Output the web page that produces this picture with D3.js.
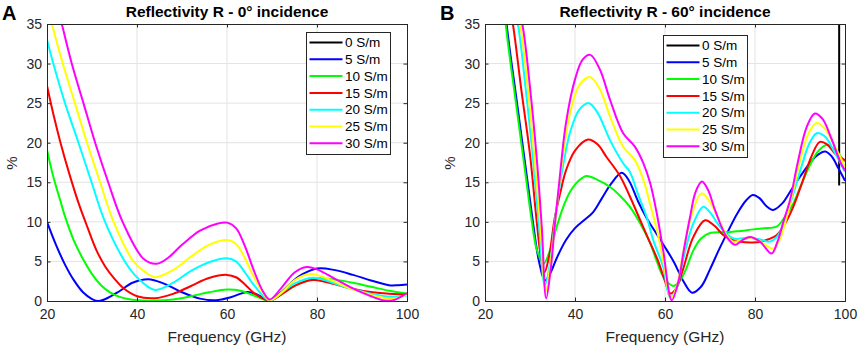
<!DOCTYPE html>
<html>
  <head>
    <meta charset="UTF-8">
    <style>
      body {
        margin: 0;
        background: #ffffff;
        font-family: "Liberation Sans", Arial, Helvetica, sans-serif;
      }

      .tick text {
        font-size: 14px;
        fill: #262626;
      }

      .legend text {
        font-size: 13.5px;
        fill: #000000;
      }
    </style>
    <script src="https://cdn.jsdelivr.net/npm/d3@7"></script>
  </head>

  <body>
    <svg id="chart" width="858" height="353"></svg>

    <script type="text/javascript">
      const seriesNames = ['0 S/m', '5 S/m', '10 S/m', '15 S/m', '20 S/m', '25 S/m', '30 S/m']
      const seriesColors = ['#000000', '#0000ff', '#00ff00', '#ff0000', '#00ffff', '#ffff00', '#ff00ff']
      const xTicks = [20, 40, 60, 80, 100]
      const yTicks = [0, 5, 10, 15, 20, 25, 30, 35]

      // panel A : 0 deg incidence, [frequency GHz, R %]
      const a0 = []
      const a5 = [[20,10],[22,7.1],[24,4.6],[26,2.6],[28,1.1],[30,0.25],[31.5,0],[33,0.25],[36,1.2],[39,2.3],[42.5,2.75],[46,2.2],[50,1.1],[54,0.3],[57.5,0.1],[61,0.5],[64.5,1.15],[67,0.75],[69.3,0.05],[72,1.1],[76,3.1],[80,4.1],[84,3.9],[88,3.3],[92,2.6],[96,2.0],[98,2.0],[100,2.1]]
      const a10 = [[20,19.1],[21,16.6],[22,14.5],[23,12.6],[24,10.7],[26,7.6],[28,5.3],[30,3.4],[32,2.0],[34,1.1],[36,0.55],[38,0.25],[40,0.1],[44,0.05],[48,0.2],[52,0.6],[56,1.1],[60,1.45],[63,1.3],[66,0.7],[69.5,0.05],[73,1.2],[76,2.2],[80,2.85],[84,2.7],[88,2.3],[92,1.8],[96,1.3],[100,0.95]]
      const a15 = [[20,27.2],[21.5,23.4],[23,20],[25,16],[27,12.4],[29,9.3],[31,6.4],[33,4.3],[35,2.8],[37,1.6],[40,0.6],[44,0.35],[48,0.9],[52,1.9],[56,2.9],[60,3.3],[62,3.0],[64,2.1],[66,1.0],[69.5,0.05],[72,0.8],[75,1.9],[79,2.65],[82,2.4],[86,1.8],[90,1.3],[94,1.0],[97,0.9],[100,0.8]]
      const a20 = [[20,33],[21.4,30],[24,25],[27,20],[29.9,15],[32.9,10],[37.3,5],[40,3.0],[44,1.4],[48,2.3],[52,3.8],[56,4.9],[60,5.4],[62,5.0],[64,3.6],[66,2.0],[69.5,0.05],[72,1.0],[75,2.2],[79,2.95],[82,2.6],[86,1.8],[90,1.2],[94,0.7],[97,0.55],[100,0.7]]
      const a25 = [[20,37.5],[21.1,35],[23.5,30],[26.2,25],[28.9,20],[31.8,15],[34.8,10],[39.2,5],[41.5,3.8],[44,3.0],[48,3.9],[52,5.6],[56,7.1],[60,7.7],[62,7.2],[64,5.4],[66,3.0],[69.5,0.1],[72,1.0],[75,2.6],[78.4,3.4],[82,2.9],[86,1.9],[90,1.1],[94,0.5],[97,0.3],[100,0.8]]
      const a30 = [[20,43],[23.3,35],[25.5,30],[28.1,25],[30.7,20],[33.6,15],[36.8,10],[41.5,5.3],[44.4,4.7],[47,5.5],[50,7.1],[54,8.9],[58,9.8],[60,9.9],[62,9.2],[64,6.9],[66,3.8],[68,1.2],[69.5,0.2],[72,1.6],[75,3.6],[77.7,4.3],[80,4.0],[84,2.8],[88,1.6],[92,0.6],[95,0.05],[97,0.1],[100,1.0]]

      // panel B : 60 deg incidence
      const b0 = [[98.7,40],[98.7,14.6]]
      const b5 = [[23.8,42],[24.8,35],[27,25.5],[29,17],[30.6,10.2],[32,5],[33.3,2.6],[34.5,3.5],[36,5.5],[38,7.7],[40,9.2],[42,10.2],[44,11.2],[46,13],[48,14.8],[50.4,16.2],[52,15.2],[54,12.6],[56,10.4],[58,8.6],[60,6.8],[62,4.9],[64,2.6],[66,1.05],[68,1.8],[70,4.0],[72,6.5],[74,8.8],[76,11.0],[78,12.7],[79.5,13.4],[81,13.0],[82.5,12.0],[84,11.5],[86,12.3],[88,14.0],[90,15.7],[92,17.3],[94,18.5],[95.6,18.9],[97,18.3],[98.5,16.8],[100,15.2]]
      const b10 = [[23.6,42],[24.6,35],[27,24.5],[29,16],[30.3,10.5],[31.5,6.5],[33,4.7],[34.5,6.5],[36,9.5],[37.4,11.9],[39,13.9],[41,15.3],[42.6,15.8],[45,15.3],[47.8,14.4],[50,13.3],[52.2,11.9],[54.5,9.8],[56.7,7.3],[58,5.3],[59.6,3.1],[61.8,1.9],[63,2.3],[64.5,3.8],[66.3,6.4],[68,7.9],[70,8.6],[73.7,8.7],[76,8.8],[79.6,9.05],[82,9.2],[84.8,9.4],[86.5,10.5],[88.5,12.3],[90.5,15],[92.5,17.5],[94,18.9],[95.9,19.7],[97.5,19.2],[99,18.3],[100,17.6]]
      const b15 = [[24,42],[26.2,35],[28,27],[30,18.5],[31.5,10],[32.3,6],[33.2,3.6],[34.2,5.5],[35.5,10.5],[36.7,13.6],[38,16.5],[40,19],[42.9,20.4],[45,19.8],[47,18.2],[50,15.8],[52.2,13.2],[54.5,10.2],[56.5,7.6],[58.5,5.0],[60,2.5],[61.2,0.95],[62.5,1.6],[64,4.0],[66.3,8.1],[68.9,10.2],[71,9.5],[73,8.3],[75,7.7],[76.7,7.5],[79,7.4],[81.1,7.45],[83,7.8],[84.8,8.3],[86.5,9.6],[88.5,11.9],[90.5,15.0],[92.5,18.2],[94.4,20.1],[96,19.8],[98,18.5],[100,17.8]]
      const b20 = [[24.5,42],[27.3,35],[29,27],[30.5,19],[32,9.5],[33.3,2.0],[34.5,5],[35.5,10],[37,16],[39,21.5],[41,24.2],[43.1,25.0],[45,23.8],[47.8,20.3],[50.7,17.4],[52.2,16.3],[54,13.5],[55.9,10.65],[57.5,7.5],[59.6,4.3],[61.1,0.5],[62.5,1.5],[64,5.2],[66.3,9.8],[68.5,11.9],[70,11.2],[72.2,9.4],[75.2,7.9],[78.5,8.0],[81,7.8],[83.3,7.5],[85,8.2],[86.5,10],[88.5,13.5],[90.5,17.3],[92,19.8],[93.7,21.2],[95.5,20.8],[97.5,19],[100,16.3]]
      const b25 = [[25,42],[27.8,35],[29.5,27],[31,18],[32.3,9.5],[33.5,1.2],[34.5,4.5],[35.5,9.5],[37,17],[39,24],[41,27.3],[43.3,28.3],[45.5,26.8],[47.8,23.3],[50.7,19.5],[53.3,17.8],[55.2,15.3],[56.8,12],[58.2,9],[59.8,4.5],[61.3,0.4],[62.6,1.8],[64,6],[66,11],[68.1,13.6],[70,12.5],[72.2,10],[73.8,8.2],[75.2,7.5],[77,7.7],[78.9,8.0],[81,7.6],[84.1,6.6],[85.5,7.8],[87,10.5],[88.5,14],[90.5,18.8],[92,21.3],[93.7,22.5],[95.5,21.8],[97.5,19.8],[100,17]]
      const b30 = [[25.5,42],[28.3,35],[30,27],[31.5,18],[32.6,9.5],[33.6,0.33],[34.6,4],[35.5,9.5],[36.5,15],[38,22.5],[40,28],[41.7,30.5],[43.4,31.1],[45.5,29.3],[47.8,25.4],[50.7,21.2],[53.3,19.5],[55.2,17.4],[56.7,14.9],[58.2,11],[59.6,6.4],[61.5,0.1],[63,2.5],[64.2,6.5],[65.6,10.7],[66.8,13.8],[68.2,15.1],[69.6,14],[71.1,11.5],[73.7,8.1],[75.6,7.1],[77.2,7.7],[78.9,8.1],[81.1,7.5],[83.7,6.0],[85,7.5],[86.3,10.0],[87.8,12.8],[89.5,17.5],[91.5,22],[93.3,23.7],[95,23],[97,20.5],[99,17.5],[100,16.5]]

      const panels = [
        {id: 'A', title: 'Reflectivity R - 0° incidence', left: 47, series: [a0, a5, a10, a15, a20, a25, a30], legend: {x: 306, y: 32}},
        {id: 'B', title: 'Reflectivity R - 60° incidence', left: 485, series: [b0, b5, b10, b15, b20, b25, b30], legend: {x: 663, y: 35}}
      ]

      const plotWidth = 360
      const plotTop = 24
      const plotBottom = 301
      const axisColor = '#262626'
      const gridColor = '#e3e3e3'
      const tickLen = 3.5

      let svg = d3.select('#chart')

      function drawPanel(panel) {
        let x = d3.scaleLinear().domain([20, 100]).range([panel.left, panel.left + plotWidth])
        let y = d3.scaleLinear().domain([0, 35]).range([plotBottom, plotTop])

        let g = svg.append('g')

        // grid
        g.selectAll('.gx')
          .data(xTicks.slice(1, -1))
          .join('line')
            .attr('x1', d => x(d)).attr('x2', d => x(d))
            .attr('y1', plotTop).attr('y2', plotBottom)
            .attr('stroke', gridColor)
        g.selectAll('.gy')
          .data(yTicks.slice(1, -1))
          .join('line')
            .attr('x1', panel.left).attr('x2', panel.left + plotWidth)
            .attr('y1', d => y(d)).attr('y2', d => y(d))
            .attr('stroke', gridColor)

        // curves
        g.append('clipPath')
          .attr('id', 'clip' + panel.id)
          .append('rect')
            .attr('x', panel.left).attr('y', plotTop)
            .attr('width', plotWidth).attr('height', plotBottom - plotTop)

        let line = d3.line()
          .x(d => x(d[0]))
          .y(d => y(d[1]))
          .curve(d3.curveCatmullRom.alpha(0.5))

        g.append('g')
          .attr('clip-path', `url(#clip${panel.id})`)
          .selectAll('path')
          .data(panel.series)
          .join('path')
            .attr('d', d => d.length ? line(d) : null)
            .attr('fill', 'none')
            .attr('stroke', (d, i) => seriesColors[i])
            .attr('stroke-width', 2)

        // axes, ticks inward on all sides
        let bottom = g.append('g')
          .attr('transform', `translate(0,${plotBottom})`)
          .call(d3.axisBottom(x).tickValues(xTicks).tickSize(-tickLen).tickPadding(8))
        let top = g.append('g')
          .attr('transform', `translate(0,${plotTop})`)
          .call(d3.axisTop(x).tickValues(xTicks).tickSize(-tickLen).tickFormat(''))
        let left = g.append('g')
          .attr('transform', `translate(${panel.left},0)`)
          .call(d3.axisLeft(y).tickValues(yTicks).tickSize(-tickLen).tickPadding(5))
        let right = g.append('g')
          .attr('transform', `translate(${panel.left + plotWidth},0)`)
          .call(d3.axisRight(y).tickValues(yTicks).tickSize(-tickLen).tickFormat(''))

        for (let ax of [bottom, top, left, right]) {
          ax.selectAll('.domain').attr('stroke', axisColor)
          ax.selectAll('.tick line').attr('stroke', axisColor)
          ax.attr('font-family', null).attr('font-size', null)
        }

        // texts
        let mid = panel.left + plotWidth / 2
        svg.append('text')
          .attr('x', mid).attr('y', 17)
          .attr('text-anchor', 'middle')
          .attr('font-size', 15.5).attr('font-weight', 'bold')
          .attr('fill', '#000')
          .text(panel.title)

        svg.append('text')
          .attr('x', panel.left - 45).attr('y', 20)
          .attr('font-size', 20).attr('font-weight', 'bold')
          .attr('fill', '#000')
          .text(panel.id)

        svg.append('text')
          .attr('x', mid).attr('y', 342)
          .attr('text-anchor', 'middle')
          .attr('font-size', 15.5)
          .attr('fill', axisColor)
          .text('Frequency (GHz)')

        svg.append('text')
          .attr('transform', `translate(${panel.left - 30},163) rotate(-90)`)
          .attr('text-anchor', 'middle')
          .attr('font-size', 15)
          .attr('fill', axisColor)
          .text('%')

        drawLegend(panel.legend)
      }

      function drawLegend(pos) {
        const boxW = 84
        const rowH = 16.8
        const boxH = 122

        let legend = svg.append('g')
          .attr('class', 'legend')
          .attr('transform', `translate(${pos.x},${pos.y})`)

        legend.append('rect')
          .attr('x', 0.5).attr('y', 0.5)
          .attr('width', boxW).attr('height', boxH)
          .attr('fill', '#fff')
          .attr('stroke', axisColor)

        let rows = legend.selectAll('.row')
          .data(seriesNames)
          .join('g')
            .attr('transform', (d, i) => `translate(0,${10.5 + i * rowH})`)

        rows.append('line')
          .attr('x1', 3.5).attr('x2', 36.5)
          .attr('stroke', (d, i) => seriesColors[i])
          .attr('stroke-width', 2)

        rows.append('text')
          .attr('x', 39).attr('y', 4.7)
          .text(d => d)
      }

      panels.forEach(drawPanel)
    </script>
  </body>
</html>
